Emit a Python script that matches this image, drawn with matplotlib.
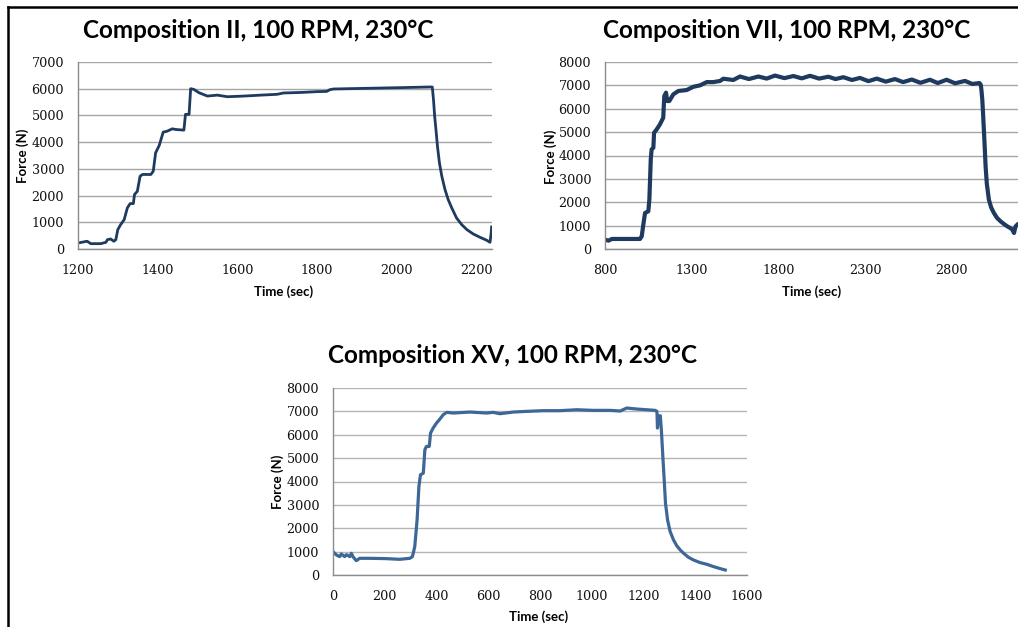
import matplotlib
matplotlib.use("Agg")
import matplotlib.pyplot as plt
from matplotlib.lines import Line2D

# ---------------- data ----------------
t_ii = [1200, 1223, 1232, 1257, 1270, 1274, 1282, 1290, 1295, 1300, 1307, 1316, 1324, 1331,
        1339, 1342, 1349, 1356, 1362, 1383, 1389, 1395, 1404, 1414, 1424, 1437, 1445, 1466,
        1470, 1479, 1483, 1491, 1504, 1525, 1550, 1575, 1617, 1659, 1700, 1716, 1760, 1800,
        1825, 1833, 1842, 1925, 2009, 2084, 2090, 2093, 2096, 2100, 2103, 2108, 2114, 2122,
        2130, 2139, 2151, 2164, 2177, 2193, 2210, 2227, 2235, 2238, 2239]
f_ii = [225, 290, 200, 200, 250, 350, 375, 290, 350, 725, 910, 1100, 1540, 1700,
        1700, 2040, 2160, 2725, 2790, 2790, 2910, 3600, 3875, 4375, 4410, 4500, 4475, 4450,
        5040, 5040, 6000, 5975, 5850, 5725, 5760, 5700, 5725, 5760, 5790, 5840, 5860, 5890,
        5900, 5965, 5990, 6015, 6040, 6065, 6065, 5590, 4966, 4342, 3843, 3219, 2720, 2221,
        1847, 1535, 1160, 911, 724, 562, 437, 325, 250, 600, 825]

t_vii = [800, 820, 840, 1002, 1012, 1021, 1031, 1050, 1056, 1064, 1069, 1079, 1083, 1098,
         1117, 1136, 1142, 1152, 1159, 1171, 1194, 1223, 1271, 1310, 1348, 1387, 1425, 1464,
         1483, 1540, 1579, 1630, 1685, 1733, 1781, 1835, 1887, 1935, 1983, 2035, 2089, 2130,
         2175, 2225, 2271, 2320, 2368, 2420, 2473, 2520, 2570, 2620, 2675, 2720, 2771, 2820,
         2877, 2920, 2960, 2968, 2972, 2977, 2982, 2987, 2992, 2996, 3003, 3015, 3028, 3044,
         3062, 3083, 3100, 3121, 3140, 3150, 3160, 3169, 3179]
f_vii = [400, 357, 430, 430, 545, 1040, 1540, 1615, 2115, 3830, 4260, 4330, 4970, 5115,
         5330, 5615, 6540, 6690, 6330, 6330, 6615, 6760, 6800, 6940, 7000, 7140, 7140, 7190,
         7285, 7230, 7380, 7270, 7380, 7290, 7420, 7310, 7400, 7300, 7410, 7290, 7370, 7270,
         7350, 7230, 7320, 7180, 7290, 7160, 7270, 7140, 7250, 7110, 7240, 7100, 7240, 7090,
         7190, 7060, 7100, 7030, 6800, 6390, 5700, 4960, 4200, 3540, 2800, 2110, 1780, 1540,
         1330, 1180, 1080, 970, 890, 830, 685, 970, 1040]

t_xv = [0, 13, 26, 32, 45, 52, 65, 71, 77, 90, 103, 142, 206, 258, 297, 307, 316, 325, 332,
        338, 349, 355, 361, 372, 377, 387, 400, 413, 426, 439, 465, 529, 594, 619, 645, 697,
        748, 813, 877, 942, 1006, 1071, 1110, 1135, 1174, 1213, 1245, 1252, 1254, 1258, 1265,
        1269, 1274, 1280, 1285, 1293, 1303, 1316, 1329, 1342, 1355, 1374, 1393, 1419, 1445,
        1471, 1497, 1516]
f_xv = [1000, 857, 786, 900, 786, 871, 786, 929, 786, 614, 714, 714, 700, 671, 714, 786,
        1214, 2357, 3786, 4286, 4357, 5357, 5500, 5500, 6071, 6286, 6500, 6671, 6857, 6957,
        6929, 6971, 6929, 6957, 6900, 6971, 7000, 7030, 7030, 7070, 7043, 7043, 7015, 7143,
        7100, 7070, 7043, 7000, 6286, 6786, 6815, 6214, 5214, 4071, 3071, 2357, 1857, 1500,
        1243, 1071, 929, 757, 643, 529, 457, 357, 271, 214]

titles = ["Composition II, 100 RPM, 230°C",
          "Composition VII, 100 RPM, 230°C",
          "Composition XV, 100 RPM, 230°C"]
xticks_ii = [1200, 1400, 1600, 1800, 2000, 2200]
yticks_ii = [0, 1000, 2000, 3000, 4000, 5000, 6000, 7000]
xticks_vii = [800, 1300, 1800, 2300, 2800]
yticks_8k = [0, 1000, 2000, 3000, 4000, 5000, 6000, 7000, 8000]
xticks_xv = [0, 200, 400, 600, 800, 1000, 1200, 1400, 1600]
xlabel = "Time (sec)"
ylabel = "Force (N)"

# ---------------- figure ----------------
W, H = 1018, 627
fig = plt.figure(figsize=(W / 100, H / 100), dpi=100)
fig.patch.set_facecolor("white")


def px_axes(l, t, r, b):
    return fig.add_axes([l / W, 1 - b / H, (r - l) / W, (b - t) / H])


TITLE_FONT = dict(family="Lato", weight="bold", size=17.5)
LABEL_FONT = dict(family="Lato", weight="bold", size=9.5)
TICK_FONT = dict(family="DejaVu Serif", size=9.2)


def style(ax, xlim, ylim, xt, yt, grid_color):
    ax.set_xlim(*xlim)
    ax.set_ylim(*ylim)
    ax.set_xticks(xt)
    ax.set_yticks(yt)
    ax.set_xticklabels([str(v) for v in xt], **TICK_FONT)
    ax.set_yticklabels([str(v) for v in yt], **TICK_FONT)
    ax.tick_params(length=0, pad=10, colors="#111111")
    ax.tick_params(axis="x", pad=11)
    ax.grid(axis="y", color=grid_color, linewidth=1.0)
    ax.set_axisbelow(True)
    for s in ["top", "right"]:
        ax.spines[s].set_visible(False)
    for s in ["left", "bottom"]:
        ax.spines[s].set_color("#8c8c8c")
        ax.spines[s].set_linewidth(1.0)


ax1 = px_axes(78, 62, 492, 249)
ax1.plot(t_ii, f_ii, color="#1e3a5f", lw=2.0, solid_joinstyle="round")
style(ax1, (1200, 2240), (0, 7000), xticks_ii, yticks_ii, "#a6a6a6")

ax2 = px_axes(605, 62, 1018, 249)
ax2.plot(t_vii, f_vii, color="#1e3a5f", lw=3.0, solid_joinstyle="round")
style(ax2, (800, 3183), (0, 8000), xticks_vii, yticks_8k, "#a6a6a6")

ax3 = px_axes(333, 388, 747, 575)
ax3.plot(t_xv, f_xv, color="#3d6797", lw=2.3, solid_joinstyle="round")
style(ax3, (0, 1600), (0, 8000), xticks_xv, yticks_8k, "#b5b5b5")

# titles
fig.text(258 / W, 1 - 38 / H, titles[0], ha="center", va="baseline", **TITLE_FONT)
fig.text(787 / W, 1 - 38 / H, titles[1], ha="center", va="baseline", **TITLE_FONT)
fig.text(513 / W, 1 - 363 / H, titles[2], ha="center", va="baseline", **TITLE_FONT)

# axis labels
for (x, y) in [(284, 292), (812, 292), (539, 617)]:
    fig.text(x / W, 1 - y / H, xlabel, ha="center", va="center", **LABEL_FONT)
for (x, y) in [(22.5, 156), (551, 157), (277.5, 482)]:
    fig.text(x / W, 1 - y / H, ylabel, ha="center", va="center", rotation=90, **LABEL_FONT)

# black frame (top and left edges)
fig.add_artist(Line2D([8 / W, 1.0], [1 - 7 / H, 1 - 7 / H], color="black", lw=1.8,
                      transform=fig.transFigure))
fig.add_artist(Line2D([8 / W, 8 / W], [1 - 7 / H, 0], color="black", lw=1.8,
                      transform=fig.transFigure))

fig.savefig("out.png", dpi=100)
